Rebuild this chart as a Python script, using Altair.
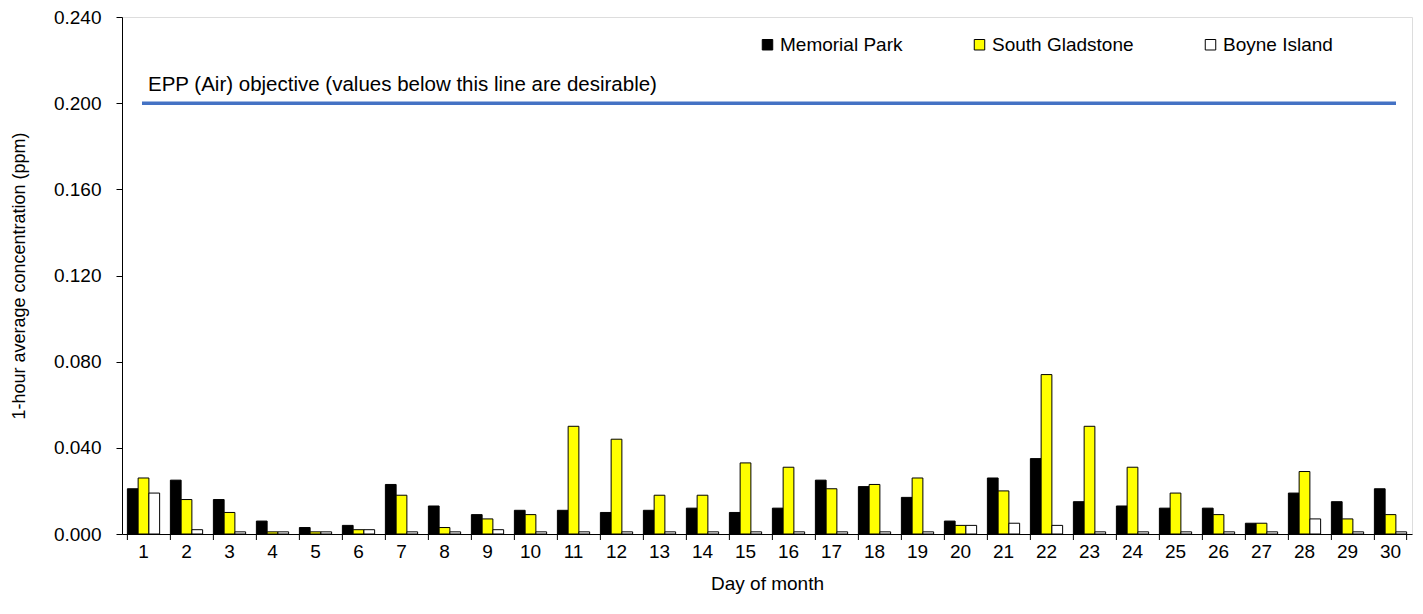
import altair as alt
import pandas as pd

days = list(range(1, 31))
sites = ["Memorial Park", "South Gladstone", "Boyne Island"]
memorial_park = [0.021, 0.025, 0.016, 0.006, 0.003, 0.004, 0.023, 0.013, 0.009, 0.011,
                 0.011, 0.010, 0.011, 0.012, 0.010, 0.012, 0.025, 0.022, 0.017, 0.006,
                 0.026, 0.035, 0.015, 0.013, 0.012, 0.012, 0.005, 0.019, 0.015, 0.021]
south_gladstone = [0.026, 0.016, 0.010, 0.001, 0.001, 0.002, 0.018, 0.003, 0.007, 0.009,
                   0.050, 0.044, 0.018, 0.018, 0.033, 0.031, 0.021, 0.023, 0.026, 0.004,
                   0.020, 0.074, 0.050, 0.031, 0.019, 0.009, 0.005, 0.029, 0.007, 0.009]
boyne_island = [0.019, 0.002, 0.001, 0.001, 0.001, 0.002, 0.001, 0.001, 0.002, 0.001,
                0.001, 0.001, 0.001, 0.001, 0.001, 0.001, 0.001, 0.001, 0.001, 0.004,
                0.005, 0.004, 0.001, 0.001, 0.001, 0.001, 0.001, 0.007, 0.001, 0.001]
objective = [0.200]
objective_label = "EPP (Air) objective (values below this line are desirable)"
y_ticks = [0.0, 0.04, 0.08, 0.12, 0.16, 0.2, 0.24]
colors = ["#000000", "#FFFF00", "#FFFFFF"]

rows = []
for name, vals in zip(sites, [memorial_park, south_gladstone, boyne_island]):
    for d, v in zip(days, vals):
        rows.append({"day": d, "site": name, "value": v})
df = pd.DataFrame(rows)
df_days = pd.DataFrame({"day": days})
df_obj = pd.DataFrame({"value": objective, "label": [objective_label]})

FONT = "Liberation Sans"
FS = 19
W, H = 1290, 517

xscale = alt.Scale(domain=days, paddingInner=0.25, paddingOuter=0.125)
yscale = alt.Scale(domain=[0, 0.24], nice=False)

bars = alt.Chart(df).mark_bar(stroke="black", strokeWidth=1).encode(
    x=alt.X("day:O", scale=xscale, sort=days,
            axis=alt.Axis(title="Day of month", labelAngle=0, ticks=False, tickSize=0,
                          labelPadding=8, titlePadding=13, domainColor="black",
                          labelColor="black", titleColor="black",
                          labelFontSize=FS, titleFontSize=FS, labelFont=FONT,
                          titleFont=FONT, titleFontWeight="normal")),
    xOffset=alt.XOffset("site:N", sort=sites, scale=alt.Scale(domain=sites)),
    y=alt.Y("value:Q", scale=yscale,
            axis=alt.Axis(title="1-hour average concentration (ppm)", values=y_ticks,
                          format=".3f", grid=False, tickSize=6, tickColor="black",
                          domainColor="black", labelColor="black", titleColor="black",
                          labelFontSize=FS, titleFontSize=18, labelFont=FONT,
                          titleFont=FONT, titleFontWeight="normal",
                          labelPadding=15, titlePadding=25)),
    color=alt.Color("site:N", sort=sites,
                    scale=alt.Scale(domain=sites, range=colors),
                    legend=alt.Legend(title=None, orient="none", legendX=636, legendY=18,
                                      direction="horizontal", columns=3, padding=0,
                                      symbolType="square", symbolSize=110,
                                      symbolStrokeColor="black", symbolStrokeWidth=1,
                                      labelFontSize=FS, labelFont=FONT, labelColor="black",
                                      labelOffset=3, columnPadding=67)),
)

ticks = alt.Chart(df_days).mark_rule(color="black", strokeWidth=1).encode(
    x=alt.X("day:O", scale=xscale, sort=days, bandPosition=0),
    y=alt.value(H),
    y2=alt.value(H + 6),
)
end_tick = alt.Chart(df_days).transform_filter("datum.day == 30").mark_rule(
    color="black", strokeWidth=1).encode(
    x=alt.X("day:O", scale=xscale, sort=days, bandPosition=1),
    y=alt.value(H),
    y2=alt.value(H + 6),
)

obj_line = alt.Chart(df_obj).mark_rule(color="#4472C4", strokeWidth=3.5).encode(
    y=alt.Y("value:Q", scale=yscale),
    x=alt.value(20),
    x2=alt.value(1274),
)
obj_text = alt.Chart(df_obj).mark_text(align="left", baseline="alphabetic", dy=-12,
                                       font=FONT, fontSize=20.5, color="black").encode(
    y=alt.Y("value:Q", scale=yscale),
    x=alt.value(26),
    text="label:N",
)

chart = alt.layer(bars, ticks, end_tick, obj_line, obj_text).properties(
    width=W, height=H,
    autosize=alt.AutoSizeParams(type="none"),
    padding={"left": 114, "top": 9, "right": 3, "bottom": 70},
).configure_view(stroke="black", strokeWidth=1).configure(background="white")

chart.save("out.html", embed_options={"renderer": "svg", "actions": False})
